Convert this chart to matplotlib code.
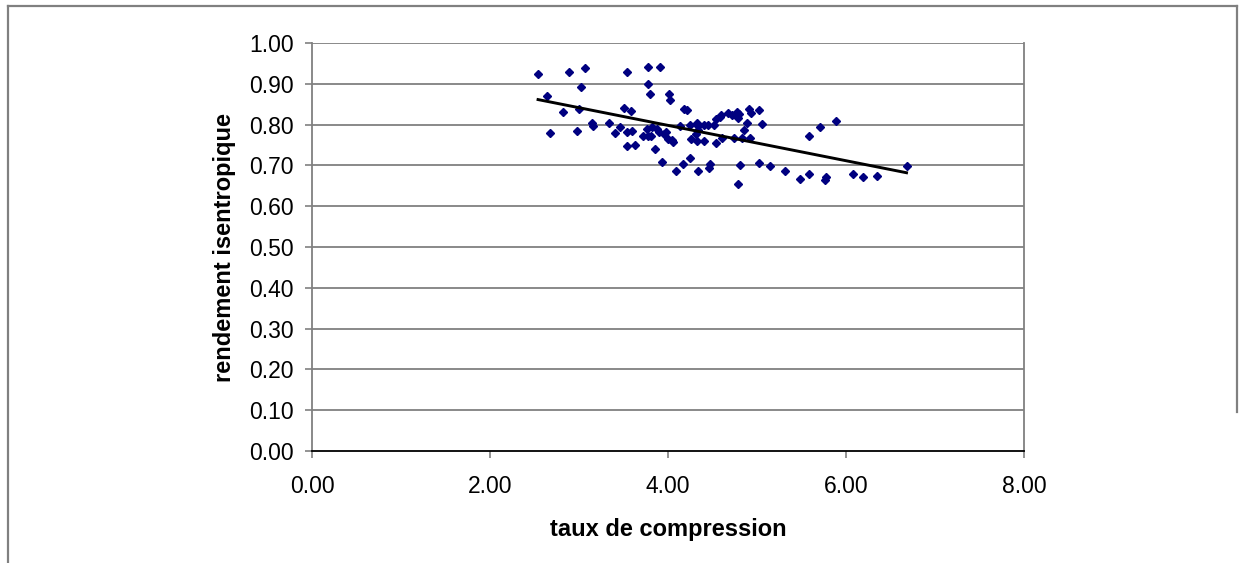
import numpy as np
import matplotlib.pyplot as plt
from matplotlib.lines import Line2D

plt.rcParams['font.family'] = ['Liberation Sans', 'DejaVu Sans']

# Points: compression ratio vs isentropic efficiency
taux = [2.54, 2.64, 2.67, 2.82, 2.89, 2.98, 3.00, 3.02, 3.07, 3.15,
        3.16, 3.34, 3.40, 3.46, 3.51, 3.54, 3.54, 3.54, 3.58, 3.60,
        3.63, 3.72, 3.76, 3.78, 3.78, 3.80, 3.78, 3.81, 3.82, 3.85,
        3.88, 3.90, 3.91, 3.93, 3.96, 3.98, 4.00, 4.01, 4.02, 4.05,
        4.06, 4.09, 4.14, 4.17, 4.18, 4.21, 4.25, 4.25, 4.26, 4.31,
        4.33, 4.33, 4.34, 4.34, 4.34, 4.40, 4.41, 4.45, 4.46, 4.47,
        4.52, 4.54, 4.54, 4.58, 4.60, 4.61, 4.67, 4.72, 4.74, 4.78,
        4.79, 4.79, 4.80, 4.81, 4.83, 4.85, 4.89, 4.91, 4.92, 4.93,
        5.02, 5.02, 5.06, 5.15, 5.32, 5.48, 5.58, 5.58, 5.71, 5.76,
        5.78, 5.89, 6.08, 6.19, 6.35, 6.68]
rendement = [0.924, 0.871, 0.780, 0.830, 0.930, 0.784, 0.838, 0.891, 0.938, 0.804,
             0.797, 0.805, 0.779, 0.793, 0.840, 0.928, 0.782, 0.748, 0.834, 0.785,
             0.751, 0.772, 0.789, 0.940, 0.900, 0.876, 0.773, 0.773, 0.795, 0.740,
             0.788, 0.781, 0.941, 0.709, 0.776, 0.783, 0.764, 0.874, 0.860, 0.762,
             0.757, 0.686, 0.797, 0.703, 0.838, 0.835, 0.800, 0.717, 0.764, 0.778,
             0.804, 0.759, 0.797, 0.786, 0.686, 0.800, 0.759, 0.800, 0.693, 0.703,
             0.800, 0.814, 0.754, 0.819, 0.823, 0.766, 0.828, 0.824, 0.766, 0.830,
             0.817, 0.654, 0.825, 0.701, 0.766, 0.787, 0.803, 0.838, 0.766, 0.828,
             0.836, 0.705, 0.801, 0.699, 0.686, 0.666, 0.772, 0.678, 0.794, 0.663,
             0.672, 0.808, 0.678, 0.671, 0.675, 0.699]

x = np.array(taux)
y = np.array(rendement)

# Linear trend line over the data range
coeff = np.polyfit(x, y, 1)
xt = np.array([x.min(), x.max()])
yt = np.polyval(coeff, xt)

fig = plt.figure(figsize=(12.45, 5.63), dpi=100)
ax = fig.add_axes([312/1245, 1 - 451/563, 712/1245, 408/563])

ax.plot(x, y, linestyle='none', marker='D', markersize=4.2,
        color='#000080', zorder=3)
ax.plot(xt, yt, color='black', linewidth=2.1, zorder=4)

ax.set_xlim(0, 8)
ax.set_ylim(0, 1)
ax.set_xticks(np.arange(0, 8.01, 2))
ax.set_yticks(np.arange(0, 1.001, 0.1))
ax.xaxis.set_major_formatter(plt.FormatStrFormatter('%.2f'))
ax.yaxis.set_major_formatter(plt.FormatStrFormatter('%.2f'))

# Horizontal gridlines only
for yv in np.arange(0.1, 1.001, 0.1):
    ax.axhline(yv, color='#808080', linewidth=1.3, zorder=1)

for side in ['left', 'right', 'top']:
    ax.spines[side].set_color('#808080')
    ax.spines[side].set_linewidth(1.3)
ax.spines['top'].set_visible(False)
ax.spines['bottom'].set_color('black')
ax.spines['bottom'].set_linewidth(1.3)

ax.tick_params(axis='both', labelsize=16.5, length=5, width=1.2,
               color='#808080', direction='out')
ax.tick_params(axis='x', pad=12)
ax.tick_params(axis='y', pad=8)

ax.set_xlabel('taux de compression', fontsize=17, fontweight='bold')
ax.set_ylabel('rendement isentropique', fontsize=17, fontweight='bold')
ax.xaxis.set_label_coords(0.5, (451 - 518) / 408)
ax.yaxis.set_label_coords((236 - 312) / 712, 0.5)

# Outer chart frame
W, H = 1245, 563
frame = dict(color='#808080', linewidth=1.6, transform=fig.transFigure)
fig.add_artist(Line2D([8/W, 8/W], [0, 1 - 6/H], **frame))
fig.add_artist(Line2D([8/W, 1237/W], [1 - 6/H, 1 - 6/H], **frame))
fig.add_artist(Line2D([1237/W, 1237/W], [1 - 6/H, 1 - 412/H], **frame))

fig.savefig('out.png', dpi=100)
